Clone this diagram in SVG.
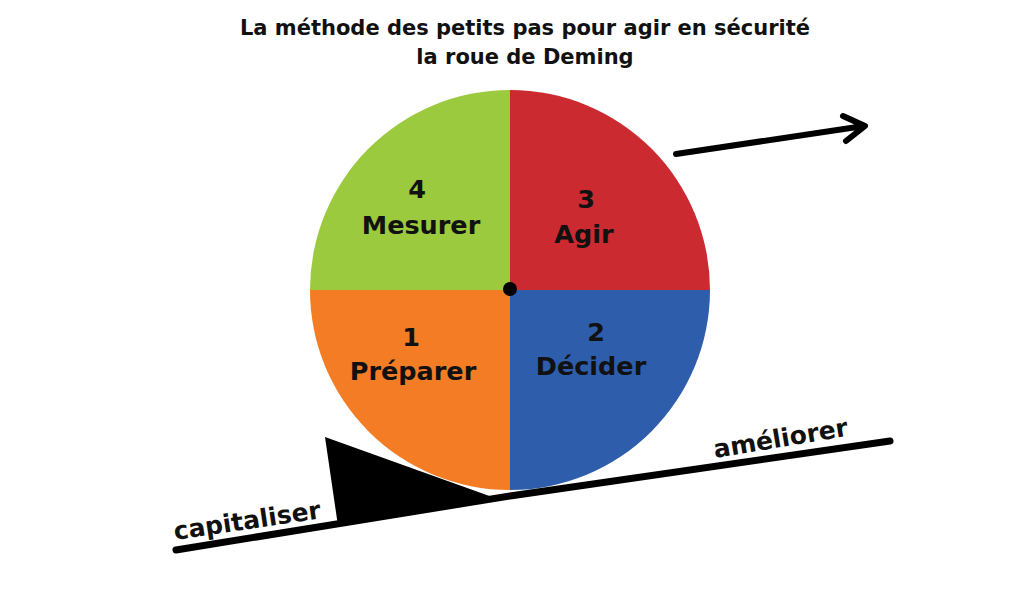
<svg xmlns="http://www.w3.org/2000/svg" width="1024" height="613" viewBox="0 0 1024 613">
<style>
text{font-family:"DejaVu Sans","Liberation Sans",sans-serif;font-weight:bold;fill:#111}
.title{font-size:21px;text-anchor:middle}
.lbl{font-size:25.5px;text-anchor:middle}
.gl{font-size:25px}
.ink{stroke:#000;fill:none;stroke-linecap:round;stroke-linejoin:round}
</style>
<rect width="1024" height="613" fill="#fff"/>
<g id="title">
<text class="title" x="525" y="35">La méthode des petits pas pour agir en sécurité</text>
<text class="title" x="525" y="64">la roue de Deming</text>
</g>
<g id="wheel">
<g id="q4-mesurer">
<path d="M510,290 L310,290 A200,200 0 0 1 510,90 Z" fill="#9BCA3E"/>
<text class="lbl" x="417" y="198">4</text>
<text class="lbl" x="421" y="234">Mesurer</text>
</g>
<g id="q3-agir">
<path d="M510,290 L510,90 A200,200 0 0 1 710,290 Z" fill="#CB2A30"/>
<text class="lbl" x="586" y="208">3</text>
<text class="lbl" x="584" y="243">Agir</text>
</g>
<g id="q2-decider">
<path d="M510,290 L710,290 A200,200 0 0 1 510,490 Z" fill="#2E5DAB"/>
<text class="lbl" x="596" y="341">2</text>
<text class="lbl" x="591" y="375">Décider</text>
</g>
<g id="q1-preparer">
<path d="M510,290 L510,490 A200,200 0 0 1 310,290 Z" fill="#F47C25"/>
<text class="lbl" x="411" y="346">1</text>
<text class="lbl" x="413" y="380">Préparer</text>
</g>
<circle id="axle" cx="510" cy="289" r="7" fill="#000"/>
</g>
<g id="wedge">
<polygon points="325,437 338,526 495,498" fill="#000"/>
</g>
<g id="connectors">
<path class="ink" d="M176,550 L510,496 L890,441" stroke-width="7"/>
<path class="ink" d="M676,154 L864,126 M843,116 L865,126 L846,141" stroke-width="6"/>
</g>
<g id="ground-labels">
<text class="gl" transform="translate(175,540) rotate(-8.5)">capitaliser</text>
<text class="gl" transform="translate(715,458) rotate(-9.5)">améliorer</text>
</g>
</svg>
